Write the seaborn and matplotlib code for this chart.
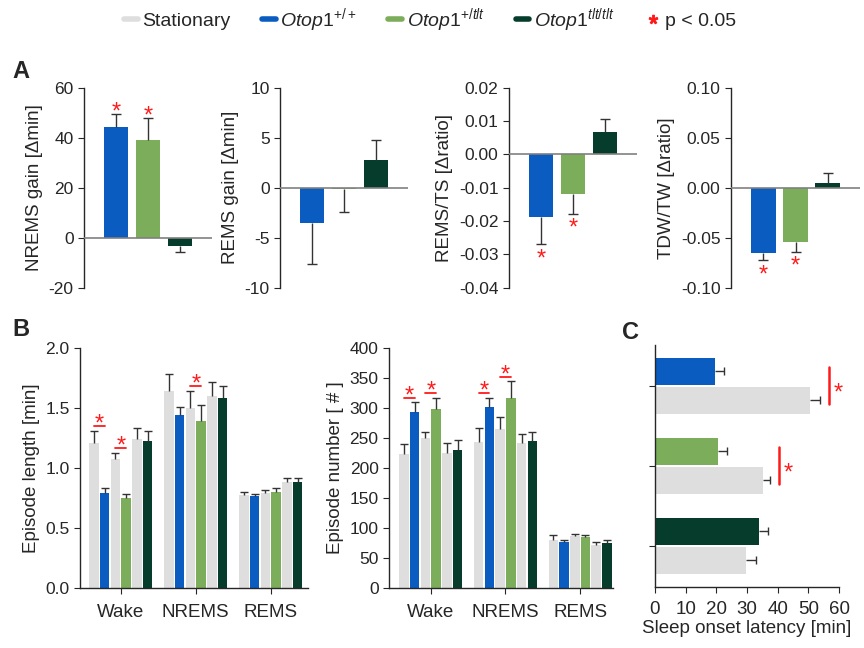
import matplotlib
matplotlib.use('Agg')
import matplotlib.pyplot as plt
from matplotlib.lines import Line2D
import seaborn as sns
import numpy as np
import pandas as pd

GRAY = '#dedede'
BLUE = '#0a5cc0'
GREEN = '#7bad5b'
DARK = '#063c2c'
RED = '#ff1a1a'
ERRC = '#333333'

genotypes = ['+/+', '+/tlt', 'tlt/tlt']

# panel A: change vs stationary (mean, one-sided SEM)
nrems_gain = [44.3, 39.0, -3.4]
nrems_gain_err = [5.2, 9.0, 2.2]
rems_gain = [-3.5, -0.1, 2.8]
rems_gain_err = [4.1, 2.3, 2.0]
rems_ts = [-0.0187, -0.0120, 0.0067]
rems_ts_err = [0.0082, 0.0058, 0.0039]
tdw_tw = [-0.065, -0.0543, 0.0043]
tdw_tw_err = [0.0076, 0.0097, 0.0107]
a_sig = [[1, 1, 0], [0, 0, 0], [1, 1, 0], [1, 1, 0]]

# panel B: stationary / running pairs for each genotype
states = ['Wake', 'NREMS', 'REMS']
conditions = ['stat +/+', '+/+', 'stat +/tlt', '+/tlt', 'stat tlt/tlt', 'tlt/tlt']
ep_len_wake = [1.21, 0.79, 1.075, 0.75, 1.24, 1.22]
ep_len_nrems = [1.64, 1.437, 1.50, 1.39, 1.60, 1.58]
ep_len_rems = [0.775, 0.767, 0.79, 0.80, 0.883, 0.883]
ep_len_wake_err = [0.10, 0.04, 0.05, 0.03, 0.09, 0.09]
ep_len_nrems_err = [0.14, 0.073, 0.14, 0.13, 0.11, 0.10]
ep_len_rems_err = [0.025, 0.013, 0.025, 0.03, 0.034, 0.034]
ep_num_wake = [223, 293, 249, 298, 225, 229.5]
ep_num_nrems = [243, 301, 264.5, 317, 241.7, 244]
ep_num_rems = [80, 76, 85.6, 84, 70.6, 74]
ep_num_wake_err = [16, 16, 10.5, 18.7, 15.5, 16.5]
ep_num_nrems_err = [23, 15.7, 20.5, 27, 15, 15.5]
ep_num_rems_err = [7.8, 3, 4.4, 4.3, 5, 5]
len_sig = [(0, 0), (0, 2), (1, 2)]            # (state, first bar of pair)
num_sig = [(0, 0), (0, 2), (1, 0), (1, 2)]

# panel C: sleep onset latency
latency_run = [19.6, 20.7, 34.0]
latency_run_err = [3.0, 2.7, 2.7]
latency_stat = [50.5, 35.3, 29.6]
latency_stat_err = [3.3, 2.2, 3.2]
lat_sig = [0, 1]

sns.set_style('ticks')
plt.rcParams['font.family'] = ['Liberation Sans', 'DejaVu Sans']
plt.rcParams['mathtext.fontset'] = 'custom'
plt.rcParams['mathtext.rm'] = 'Liberation Sans'
plt.rcParams['mathtext.it'] = 'Liberation Sans:italic'
plt.rcParams['axes.linewidth'] = 1.0
plt.rcParams['xtick.major.size'] = 4
plt.rcParams['ytick.major.size'] = 4
plt.rcParams['xtick.labelsize'] = 12.5
plt.rcParams['ytick.labelsize'] = 12.5
plt.rcParams['axes.labelsize'] = 13.5

W, H = 864, 648
fig = plt.figure(figsize=(W / 100, H / 100), dpi=100)


def px_axes(x0, x1, y0, y1):
    return fig.add_axes([x0 / W, 1 - y1 / H, (x1 - x0) / W, (y1 - y0) / H])


def bar_centers(ax):
    return [[p.get_x() + p.get_width() / 2 for p in c] for c in ax.containers]


def one_sided(ax, pos, vals, errs, capsize, horizontal=False):
    # whisker only on the outer side of the bar, with a single cap
    vals = np.asarray(vals, float)
    errs = np.asarray(errs, float)
    tips = np.where(vals >= 0, vals + errs, vals - errs)
    if horizontal:
        ax.hlines(pos, vals, tips, color=ERRC, lw=1, zorder=4)
        ax.plot(tips, pos, ls='none', marker='|', ms=capsize, mew=1, color=ERRC, zorder=4)
    else:
        ax.vlines(pos, vals, tips, color=ERRC, lw=1, zorder=4)
        ax.plot(pos, tips, ls='none', marker='_', ms=capsize, mew=1, color=ERRC, zorder=4)
    return tips


# ---------------- panel A ----------------
a_specs = [
    (84, 212, nrems_gain, nrems_gain_err, (-20, 60), [-20, 0, 20, 40, 60], '{:.0f}', 'NREMS gain [Δmin]'),
    (280, 408, rems_gain, rems_gain_err, (-10, 10), [-10, -5, 0, 5, 10], '{:.0f}', 'REMS gain [Δmin]'),
    (509, 637, rems_ts, rems_ts_err, (-0.04, 0.02), [-0.04, -0.03, -0.02, -0.01, 0, 0.01, 0.02], '{:.2f}', 'REMS/TS [Δratio]'),
    (731, 860, tdw_tw, tdw_tw_err, (-0.10, 0.10), [-0.10, -0.05, 0, 0.05, 0.10], '{:.2f}', 'TDW/TW [Δratio]'),
]
for k, (x0, x1, vals, errs, ylim, ticks, fmt, label) in enumerate(a_specs):
    ax = px_axes(x0, x1, 87.7, 287.7)
    df = pd.DataFrame({'genotype': genotypes, 'value': vals})
    sns.barplot(data=df, x='genotype', y='value', hue='genotype',
                palette=[BLUE, GREEN, DARK], saturation=1, width=0.78,
                errorbar=None, legend=False, linewidth=0, ax=ax)
    ax.axhline(0, color='#808080', lw=1.2, zorder=3)
    xs = [c[0] for c in bar_centers(ax)]
    tips = one_sided(ax, xs, vals, errs, 7)
    rng = ylim[1] - ylim[0]
    for i, s in enumerate(a_sig[k]):
        if s:
            if vals[i] >= 0:
                ax.text(xs[i], tips[i] - 0.025 * rng, '*', color=RED,
                        ha='center', va='baseline', fontsize=17)
            else:
                ax.text(xs[i], tips[i] - 0.105 * rng, '*', color=RED,
                        ha='center', va='baseline', fontsize=17)
    ax.set_xlim(-1, 3)
    ax.set_ylim(*ylim)
    ax.set_yticks(ticks)
    ax.set_yticklabels([fmt.format(t) for t in ticks])
    ax.set_xticks([])
    ax.set_xlabel('')
    ax.set_ylabel(label)
    sns.despine(ax=ax, bottom=True)

# ---------------- panel B ----------------
b_pal = [GRAY, BLUE, GRAY, GREEN, GRAY, DARK]
b_specs = [
    (80, 308, (-0.543, 2.497), [ep_len_wake, ep_len_nrems, ep_len_rems],
     [ep_len_wake_err, ep_len_nrems_err, ep_len_rems_err], (0, 2.0),
     [0, 0.5, 1.0, 1.5, 2.0], '{:.1f}', 'Episode length [min]', len_sig),
    (389, 613, (-0.56, 2.44), [ep_num_wake, ep_num_nrems, ep_num_rems],
     [ep_num_wake_err, ep_num_nrems_err, ep_num_rems_err], (0, 400),
     list(range(0, 401, 50)), '{:.0f}', 'Episode number [ # ]', num_sig),
]
for x0, x1, xlim, vals, errs, ylim, ticks, fmt, label, sig in b_specs:
    ax = px_axes(x0, x1, 347.7, 587.7)
    df = pd.DataFrame([(st, cond, vals[i][j])
                       for i, st in enumerate(states)
                       for j, cond in enumerate(conditions)],
                      columns=['state', 'cond', 'value'])
    sns.barplot(data=df, x='state', y='value', hue='cond', hue_order=conditions,
                palette=b_pal, saturation=1, width=0.86, gap=0.12,
                errorbar=None, legend=False, linewidth=0, ax=ax)
    centers = bar_centers(ax)
    for j in range(len(conditions)):
        one_sided(ax, centers[j], [v[j] for v in vals], [e[j] for e in errs], 5.5)
    for st, j in sig:
        top = max(vals[st][j] + errs[st][j], vals[st][j + 1] + errs[st][j + 1])
        yl = top + 0.02 * ylim[1]
        xa, xb = centers[j][st], centers[j + 1][st]
        ax.plot([xa, xb], [yl, yl], color=RED, lw=1.3)
        ax.text((xa + xb) / 2, yl - 0.02 * ylim[1], '*', color=RED,
                ha='center', va='baseline', fontsize=17)
    ax.set_xlim(*xlim)
    ax.set_ylim(*ylim)
    ax.set_yticks(ticks)
    ax.set_yticklabels([fmt.format(t) for t in ticks])
    ax.set_xlabel('')
    ax.set_ylabel(label)
    ax.tick_params(axis='x', labelsize=13.5, pad=8)
    sns.despine(ax=ax)

# ---------------- panel C ----------------
ax = px_axes(655, 839, 345, 586.7)
groups = ['g1', 'g2', 'g3']
dfc = pd.DataFrame({'group': groups * 2,
                    'cond': ['run'] * 3 + ['stat'] * 3,
                    'latency': latency_run + latency_stat})
sns.barplot(data=dfc, x='latency', y='group', hue='cond', hue_order=['run', 'stat'],
            palette=[GRAY, GRAY], saturation=1, width=0.72, gap=0.06, orient='h',
            errorbar=None, legend=False, linewidth=0, ax=ax)
for bar, col in zip(ax.containers[0], [BLUE, GREEN, DARK]):
    bar.set_facecolor(col)
yc = [[p.get_y() + p.get_height() / 2 for p in c] for c in ax.containers]
one_sided(ax, yc[0], latency_run, latency_run_err, 6, horizontal=True)
one_sided(ax, yc[1], latency_stat, latency_stat_err, 6, horizontal=True)
for g in lat_sig:
    right = max(latency_run[g] + latency_run_err[g], latency_stat[g] + latency_stat_err[g])
    xl = right + 3
    ax.plot([xl, xl], [yc[0][g] - 0.05, yc[1][g] + 0.05], color=RED, lw=1.8)
    ax.text(xl + 1.5, (yc[0][g] + yc[1][g]) / 2 + 0.17, '*', color=RED,
            ha='left', va='baseline', fontsize=17)
ax.set_xlim(0, 60)
ax.set_ylim(2.51, -0.51)
ax.set_xticks(range(0, 61, 10))
ax.set_yticklabels([])
ax.set_ylabel('')
ax.set_xlabel('Sleep onset latency [min]', labelpad=2)
ax.tick_params(axis='x', labelsize=13.5, pad=6)
sns.despine(ax=ax)

# panel letters
for lab, x, y in [('A', 12, 72), ('B', 12, 330), ('C', 622, 333)]:
    fig.text(x / W, 1 - y / H, lab, fontsize=17, fontweight='bold', va='center')

# legend
handles = [Line2D([], [], color=c, lw=4) for c in [GRAY, BLUE, GREEN, DARK]]
handles.append(Line2D([], [], color=RED, marker='$*$', ls='none', markersize=6))
labels = ['Stationary', r'$\mathit{Otop1}^{+/+}$', r'$\mathit{Otop1}^{+/tlt}$',
          r'$\mathit{Otop1}^{tlt/tlt}$', 'p < 0.05']
fig.legend(handles, labels, loc='center', bbox_to_anchor=(430 / W, 1 - 20 / H),
           ncol=5, frameon=False, fontsize=14, handlelength=0.7,
           handletextpad=0.25, columnspacing=1.6)

fig.savefig('out.png', dpi=100)
